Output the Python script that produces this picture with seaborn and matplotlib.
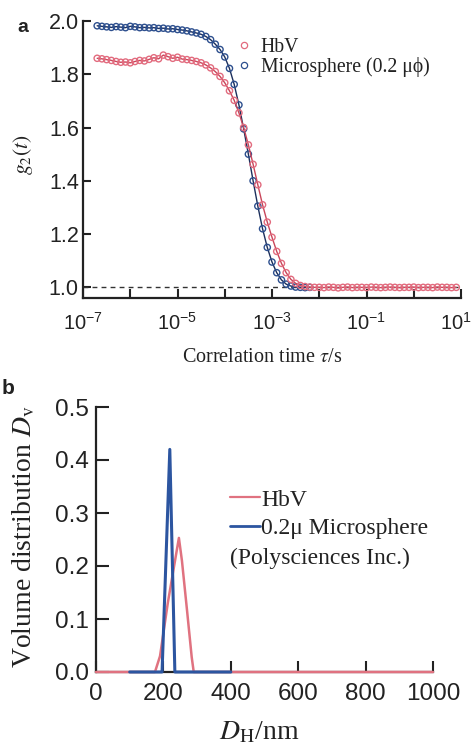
import numpy as np
import pandas as pd
import matplotlib
matplotlib.use("Agg")
import matplotlib.pyplot as plt
import matplotlib.transforms as mtransforms
import seaborn as sns
from matplotlib.lines import Line2D
from matplotlib.ticker import NullLocator

# ---------------- data (panel a) ----------------
log_tau_hbv = [-6.7, -6.6, -6.5, -6.4, -6.3, -6.2, -6.1, -6.0,
               -5.9, -5.8, -5.7, -5.6, -5.5, -5.4, -5.3, -5.2, -5.1, -5.0,
               -4.9, -4.8, -4.7, -4.6, -4.5, -4.4, -4.3, -4.2, -4.1, -4.0,
               -3.9, -3.8, -3.7, -3.6, -3.5, -3.4, -3.3, -3.2, -3.1, -3.0,
               -2.9, -2.8, -2.7, -2.6, -2.5, -2.4, -2.3, -2.2, -2.1,
               -2.0, -1.9, -1.8, -1.7, -1.6, -1.5, -1.4, -1.3, -1.2, -1.1,
               -1.0, -0.9, -0.8, -0.7, -0.6, -0.5, -0.4, -0.3, -0.2, -0.1,
               0.0, 0.1, 0.2, 0.3, 0.4, 0.5, 0.6, 0.7, 0.8, 0.9]
g2_hbv = [1.860, 1.858, 1.855, 1.852, 1.848, 1.845, 1.846, 1.843,
          1.848, 1.852, 1.850, 1.856, 1.862, 1.858, 1.872, 1.866, 1.860, 1.864,
          1.857, 1.855, 1.852, 1.848, 1.843, 1.835, 1.824, 1.810, 1.792, 1.768,
          1.738, 1.702, 1.655, 1.600, 1.535, 1.462, 1.385, 1.310, 1.245, 1.188,
          1.135, 1.090, 1.055, 1.030, 1.015, 1.007, 1.003, 1.001, 1.000,
          1.000, 0.999, 1.001, 1.000, 0.998, 1.000, 1.001, 0.999, 1.000, 1.000,
          0.999, 1.001, 1.000, 0.999, 1.000, 1.001, 1.000, 0.999, 1.000, 1.000,
          1.001, 0.999, 1.000, 1.000, 0.999, 1.001, 1.000, 1.000, 0.999, 1.000]

log_tau_ms = [-6.7, -6.6, -6.5, -6.4, -6.3, -6.2, -6.1, -6.0,
              -5.9, -5.8, -5.7, -5.6, -5.5, -5.4, -5.3, -5.2, -5.1, -5.0,
              -4.9, -4.8, -4.7, -4.6, -4.5, -4.4, -4.3, -4.2, -4.1, -4.0,
              -3.9, -3.8, -3.7, -3.6, -3.5, -3.4, -3.3, -3.2, -3.1, -3.0,
              -2.9, -2.8, -2.7, -2.6, -2.5, -2.4, -2.3, -2.2]
g2_ms = [1.982, 1.980, 1.978, 1.976, 1.979, 1.977, 1.975, 1.980,
         1.978, 1.975, 1.976, 1.974, 1.975, 1.972, 1.973, 1.970, 1.971, 1.968,
         1.966, 1.963, 1.959, 1.955, 1.950, 1.942, 1.930, 1.913, 1.893, 1.865,
         1.822, 1.762, 1.685, 1.595, 1.500, 1.400, 1.305, 1.220, 1.150, 1.095,
         1.055, 1.028, 1.012, 1.005, 1.001, 1.000, 0.999, 1.000]

a_xticks_exp = [-7, -6, -5, -4, -3, -2, -1, 0, 1]
a_yticks = [1.0, 1.2, 1.4, 1.6, 1.8, 2.0]

# ---------------- data (panel b) ----------------
hbv_D = [0, 175, 190, 213, 246, 255, 270, 284, 290, 1000]
hbv_Dv = [0.0, 0.0, 0.03, 0.13, 0.253, 0.21, 0.117, 0.028, 0.0, 0.0]
ms_D = [100, 196, 219, 234, 400]
ms_Dv = [0.0, 0.0, 0.42, 0.0, 0.0]

b_xticks = [0, 200, 400, 600, 800, 1000]
b_yticks = [0.0, 0.1, 0.2, 0.3, 0.4, 0.5]

# ---------------- style ----------------
sns.set_theme(style="ticks")
plt.rcParams.update({
    "font.family": ["Liberation Sans", "DejaVu Sans"],
    "mathtext.fontset": "stix",
    "axes.edgecolor": "#222222",
    "text.color": "#222222",
    "xtick.color": "#222222",
    "ytick.color": "#222222",
})
SERIF = ["Liberation Serif", "DejaVu Serif"]

red_mk = "#e26b7e"
red_ln = "#c8465a"
blue_mk = "#2d4f8e"
blue_ln = "#1c2f5c"
red_b = "#e07280"
blue_b = "#2c55a0"

W, H = 475, 746
fig = plt.figure(figsize=(W / 100, H / 100), dpi=100)
axA = fig.add_axes([83 / W, 1 - 298 / H, 378 / W, 277 / H])
axB = fig.add_axes([96 / W, 1 - 672 / H, 337 / W, 265 / H])

# ---------------- panel a ----------------
dfa_ms = pd.DataFrame({"tau": np.power(10.0, log_tau_ms), "g2": g2_ms})
dfa_hbv = pd.DataFrame({"tau": np.power(10.0, log_tau_hbv), "g2": g2_hbv})

axA.set_xscale("log")
axA.axhline(1.0, color="#333333", lw=1.0, ls=(0, (3.5, 3)), zorder=1)
sns.lineplot(data=dfa_ms, x="tau", y="g2", ax=axA, color=blue_ln, lw=1.0,
             estimator=None, sort=False, zorder=2)
sns.scatterplot(data=dfa_ms, x="tau", y="g2", ax=axA, color=blue_mk,
                facecolor="none", edgecolor=blue_mk, linewidth=1.0, s=20,
                marker="o", zorder=3)
sns.lineplot(data=dfa_hbv, x="tau", y="g2", ax=axA, color=red_ln, lw=1.0,
             estimator=None, sort=False, zorder=4)
sns.scatterplot(data=dfa_hbv, x="tau", y="g2", ax=axA, color=red_mk,
                facecolor="none", edgecolor=red_mk, linewidth=1.0, s=20,
                marker="o", zorder=5)

axA.set_xlim(1e-7, 1e1)
axA.set_ylim(0.96, 2.0)
axA.set_xticks([10.0 ** k for k in a_xticks_exp])
axA.set_xticklabels([r"$\mathdefault{10^{%d}}$" % k if k % 2 == 1 else ""
                     for k in a_xticks_exp])
axA.xaxis.set_minor_locator(NullLocator())
axA.set_yticks(a_yticks)
axA.set_yticklabels(["%.1f" % v for v in a_yticks])
axA.set_xlabel("")
axA.set_ylabel("")
for s in ["top", "right"]:
    axA.spines[s].set_visible(False)
for s in ["left", "bottom"]:
    axA.spines[s].set_linewidth(1.6)
axA.tick_params(axis="y", direction="in", length=6, width=1.5, pad=3, labelsize=15.5)
axA.tick_params(axis="x", direction="in", length=6.5, width=1.5, pad=10, labelsize=14.5)
# keep the last decade label inside the canvas
last_lab = axA.get_xticklabels()[-1]
last_lab.set_transform(last_lab.get_transform() +
                       mtransforms.ScaledTranslation(-5 / 100, 0, fig.dpi_scale_trans))

hA = [Line2D([], [], ls="none", marker="o", mfc="none", mec=red_mk, mew=0.9, ms=4.5),
      Line2D([], [], ls="none", marker="o", mfc="none", mec=blue_mk, mew=0.9, ms=4.5)]
fig.legend(hA, ["HbV", "Microsphere (0.2 μϕ)"], loc="upper left",
           bbox_to_anchor=(236 / W, 1 - 38 / H), frameon=False,
           prop={"family": SERIF, "size": 14.2}, handlelength=0.8,
           handletextpad=0.45, labelspacing=0.0, borderpad=0, borderaxespad=0)

fig.text(23 / W, 1 - 155 / H, r"$g_2(t)$", rotation=90, ha="center", va="center",
         fontsize=15.5)
fig.text(262 / W, 1 - 358 / H, r"Correlation time $\tau$/s", ha="center",
         va="center", fontsize=14.5, family=SERIF)
fig.text(17 / W, 1 - 28 / H, "a", ha="left", va="center", fontsize=14,
         fontweight="bold")

# ---------------- panel b ----------------
dfb_hbv = pd.DataFrame({"D": hbv_D, "Dv": hbv_Dv})
dfb_ms = pd.DataFrame({"D": ms_D, "Dv": ms_Dv})
sns.lineplot(data=dfb_hbv, x="D", y="Dv", ax=axB, color=red_b, lw=1.8,
             estimator=None, sort=False, zorder=4, clip_on=False)
sns.lineplot(data=dfb_ms, x="D", y="Dv", ax=axB, color=blue_b, lw=2.2,
             estimator=None, sort=False, zorder=5, clip_on=False)
axB.set_xlim(0, 1000)
axB.set_ylim(0, 0.5)
axB.set_xticks(b_xticks)
axB.set_xticklabels([str(v) for v in b_xticks])
axB.set_yticks(b_yticks)
axB.set_yticklabels(["%.1f" % v for v in b_yticks])
axB.set_xlabel("")
axB.set_ylabel("")
for s in ["top", "right"]:
    axB.spines[s].set_visible(False)
for s in ["left", "bottom"]:
    axB.spines[s].set_linewidth(1.6)
axB.tick_params(axis="y", direction="in", length=9, width=1.5, pad=5, labelsize=17.5)
axB.tick_params(axis="x", direction="in", length=8, width=1.5, pad=8, labelsize=17.5)

hB = [Line2D([], [], color=red_b, lw=1.6), Line2D([], [], color=blue_b, lw=2.0)]
fig.legend(hB, ["HbV", "0.2μ Microsphere"], loc="upper left",
           bbox_to_anchor=(230 / W, 1 - 489 / H), frameon=False,
           prop={"family": SERIF, "size": 17}, handlelength=1.27,
           handletextpad=0.05, labelspacing=0.3, borderpad=0, borderaxespad=0)
fig.text(230 / W, 1 - 558 / H, "(Polysciences Inc.)", ha="left", va="center",
         fontsize=17, family=SERIF)

fig.text(24 / W, 1 - 537 / H, r"Volume distribution $D_{\mathrm{v}}$", rotation=90,
         ha="center", va="center", fontsize=20, family=SERIF)
fig.text(259 / W, 1 - 739 / H, r"$D_{\mathrm{H}}$/nm", ha="center", va="baseline",
         fontsize=20, family=SERIF)
fig.text(2 / W, 1 - 388 / H, "b", ha="left", va="center", fontsize=15,
         fontweight="bold")

fig.savefig("out.png", dpi=100)
